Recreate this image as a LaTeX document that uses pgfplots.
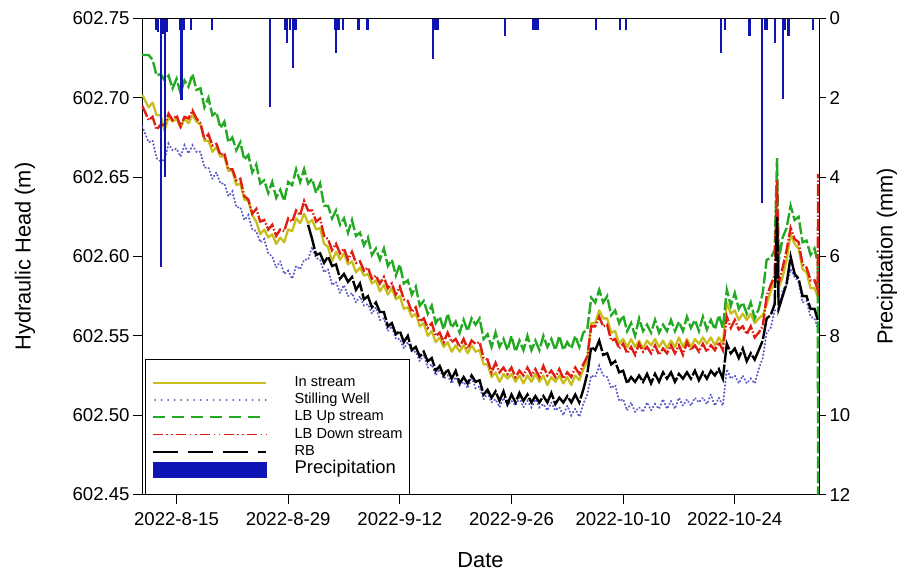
\documentclass[border=0pt]{standalone}
\usepackage{pgfplots}
\pgfplotsset{compat=1.18}
\usepackage{pgfplotstable}
\usepackage{fontspec}
\setmainfont{Liberation Sans}

\definecolor{cIn}{RGB}{200,190,30}
\definecolor{cWell}{RGB}{90,90,200}
\definecolor{cUp}{RGB}{35,170,35}
\definecolor{cDown}{RGB}{225,30,20}
\definecolor{cPrecip}{RGB}{15,20,180}

\pgfplotstableread{
d R G W K I
-4.3 602.695 602.727 602.682 nan 602.702
-3.5 602.686 602.727 602.672 nan 602.694
-3.0 602.688 602.724 602.673 nan 602.697
-2.5 602.680 602.714 602.662 nan 602.689
-2.0 602.683 602.715 602.660 nan 602.689
-1.5 602.683 602.711 602.661 nan 602.679
-1.0 602.690 602.714 602.671 nan 602.688
-0.5 602.686 602.706 602.667 nan 602.685
0.0 602.689 602.712 602.668 nan 602.687
0.5 602.682 602.703 602.663 nan 602.681
1.0 602.688 602.711 602.670 nan 602.687
1.5 602.687 602.707 602.665 nan 602.684
2.0 602.692 602.715 602.670 nan 602.689
2.5 602.687 602.705 602.666 nan 602.685
3.0 602.684 602.706 602.666 nan 602.683
3.5 602.674 602.694 602.656 nan 602.673
4.0 602.677 602.700 602.656 nan 602.673
4.5 602.670 602.689 602.649 nan 602.666
5.0 602.671 602.691 602.653 nan 602.669
5.5 602.664 602.681 602.646 nan 602.663
6.0 602.665 602.685 602.646 nan 602.663
6.5 602.655 602.672 602.638 nan 602.654
7.0 602.655 602.675 602.641 nan 602.654
7.5 602.648 602.667 602.631 nan 602.645
8.0 602.649 602.672 602.631 nan 602.646
8.5 602.638 602.661 602.623 nan 602.636
9.0 602.636 602.664 602.626 nan 602.635
9.5 602.627 602.653 602.617 nan 602.626
10.0 602.630 602.658 602.616 nan 602.622
10.5 602.622 602.646 602.609 nan 602.614
11.0 602.623 602.648 602.611 nan 602.617
11.5 602.617 602.640 602.602 nan 602.612
12.0 602.620 602.647 602.600 nan 602.614
12.5 602.613 602.637 602.593 nan 602.608
13.0 602.617 602.642 602.597 nan 602.612
13.5 602.616 602.635 602.589 nan 602.609
14.0 602.624 602.647 602.591 nan 602.617
14.5 602.622 602.645 602.586 nan 602.616
15.0 602.629 602.655 602.594 nan 602.624
15.5 602.626 602.647 602.592 nan 602.621
16.0 602.635 602.655 602.598 nan 602.627
16.5 602.629 602.646 602.598 602.620 602.621
17.0 602.629 602.649 602.606 602.611 602.623
17.5 602.622 602.640 602.599 602.601 602.617
18.0 602.624 602.646 602.598 602.602 602.618
18.5 602.613 602.632 602.590 602.596 602.608
19.0 602.611 602.632 602.592 602.600 602.606
19.5 602.604 602.624 602.582 602.594 602.597
20.0 602.608 602.629 602.584 602.595 602.603
20.5 602.602 602.620 602.577 602.586 602.598
21.0 602.605 602.624 602.582 602.589 602.602
21.5 602.598 602.615 602.575 602.584 602.595
22.0 602.603 602.623 602.577 602.587 602.597
22.5 602.596 602.613 602.571 602.579 602.590
23.0 602.597 602.615 602.575 602.583 602.593
23.5 602.591 602.607 602.569 602.573 602.588
24.0 602.593 602.612 602.570 602.575 602.589
24.5 602.586 602.601 602.564 602.568 602.583
25.0 602.588 602.605 602.568 602.571 602.585
25.5 602.583 602.598 602.560 602.565 602.578
26.0 602.587 602.605 602.561 602.565 602.582
26.5 602.580 602.594 602.553 602.556 602.576
27.0 602.583 602.598 602.556 602.558 602.580
27.5 602.576 602.588 602.548 602.551 602.573
28.0 602.581 602.595 602.548 602.553 602.575
28.5 602.573 602.583 602.542 602.546 602.567
29.0 602.572 602.585 602.546 602.550 602.568
29.5 602.565 602.576 602.540 602.541 602.562
30.0 602.568 602.581 602.540 602.543 602.564
30.5 602.559 602.569 602.534 602.537 602.556
31.0 602.561 602.572 602.538 602.540 602.558
31.5 602.555 602.564 602.530 602.534 602.550
32.0 602.558 602.569 602.532 602.536 602.553
32.5 602.550 602.558 602.525 602.528 602.546
33.0 602.552 602.562 602.529 602.531 602.549
33.5 602.546 602.554 602.523 602.525 602.543
34.0 602.552 602.564 602.525 602.529 602.546
34.5 602.546 602.555 602.520 602.523 602.540
35.0 602.548 602.559 602.524 602.528 602.544
35.5 602.543 602.552 602.519 602.520 602.540
36.0 602.548 602.560 602.521 602.524 602.544
36.5 602.542 602.553 602.517 602.520 602.539
37.0 602.547 602.561 602.524 602.525 602.544
37.5 602.545 602.557 602.517 602.521 602.540
38.0 602.546 602.561 602.518 602.522 602.541
38.5 602.536 602.548 602.510 602.513 602.532
39.0 602.535 602.551 602.514 602.516 602.532
39.5 602.527 602.543 602.508 602.511 602.524
40.0 602.533 602.552 602.510 602.515 602.527
40.5 602.527 602.543 602.505 602.509 602.521
41.0 602.530 602.548 602.511 602.515 602.526
41.5 602.526 602.541 602.506 602.507 602.523
42.0 602.530 602.550 602.509 602.513 602.526
42.5 602.524 602.540 602.506 602.508 602.521
43.0 602.528 602.547 602.511 602.514 602.525
43.5 602.525 602.541 602.505 602.509 602.520
44.0 602.530 602.550 602.509 602.513 602.525
44.5 602.525 602.541 602.505 602.508 602.521
45.0 602.529 602.547 602.510 602.512 602.526
45.5 602.524 602.541 602.505 602.508 602.521
46.0 602.531 602.550 602.507 602.512 602.525
46.5 602.525 602.543 602.503 602.508 602.519
47.0 602.528 602.548 602.508 602.514 602.524
47.5 602.524 602.541 602.503 602.507 602.521
48.0 602.529 602.550 602.505 602.511 602.525
48.5 602.523 602.541 602.500 602.508 602.520
49.0 602.527 602.546 602.506 602.512 602.524
49.5 602.524 602.542 602.500 602.508 602.519
50.0 602.530 602.550 602.504 602.513 602.525
50.5 602.526 602.543 602.499 602.508 602.522
51.0 602.532 602.552 602.507 602.516 602.529
51.5 602.537 602.554 602.513 602.526 602.534
52.0 602.556 602.574 602.525 602.543 602.558
52.5 602.556 602.571 602.524 602.541 602.558
53.0 602.562 602.579 602.531 602.547 602.566
53.5 602.556 602.571 602.525 602.538 602.561
54.0 602.557 602.575 602.524 602.539 602.561
54.5 602.547 602.563 602.517 602.532 602.552
55.0 602.548 602.566 602.519 602.534 602.553
55.5 602.542 602.558 602.509 602.527 602.545
56.0 602.545 602.563 602.510 602.528 602.548
56.5 602.539 602.553 602.503 602.520 602.543
57.0 602.543 602.558 602.508 602.524 602.548
57.5 602.538 602.550 602.502 602.521 602.543
58.0 602.545 602.561 602.505 602.525 602.547
58.5 602.540 602.553 602.502 602.521 602.542
59.0 602.543 602.557 602.508 602.526 602.547
59.5 602.539 602.552 602.503 602.520 602.544
60.0 602.544 602.560 602.507 602.526 602.548
60.5 602.538 602.552 602.504 602.521 602.543
61.0 602.542 602.557 602.510 602.527 602.547
61.5 602.539 602.553 602.504 602.523 602.542
62.0 602.544 602.560 602.509 602.527 602.547
62.5 602.539 602.553 602.504 602.521 602.543
63.0 602.544 602.559 602.511 602.526 602.549
63.5 602.538 602.553 602.506 602.523 602.543
64.0 602.546 602.562 602.510 602.527 602.548
64.5 602.541 602.555 602.506 602.523 602.543
65.0 602.544 602.560 602.511 602.528 602.548
65.5 602.540 602.553 602.508 602.522 602.545
66.0 602.545 602.562 602.511 602.527 602.549
66.5 602.540 602.554 602.507 602.523 602.545
67.0 602.544 602.560 602.513 602.528 602.549
67.5 602.541 602.554 602.506 602.525 602.544
68.0 602.546 602.563 602.511 602.529 602.549
68.5 602.541 602.555 602.506 602.523 602.545
69.0 602.562 602.579 602.529 602.545 602.571
69.5 602.555 602.569 602.523 602.539 602.564
70.0 602.560 602.577 602.525 602.542 602.566
70.5 602.554 602.567 602.520 602.536 602.560
71.0 602.556 602.571 602.525 602.542 602.564
71.5 602.551 602.564 602.520 602.534 602.560
72.0 602.556 602.571 602.523 602.539 602.564
72.5 602.549 602.561 602.520 602.535 602.558
73.0 602.552 602.567 602.529 602.541 602.561
73.5 602.556 602.577 602.536 602.547 602.563
74.0 602.575 602.598 602.552 602.561 602.570
74.5 602.582 602.599 602.555 602.563 602.578
75.0 602.588 602.604 602.566 602.570 602.585
75.3 602.648 602.662 602.566 602.625 602.586
75.5 602.583 602.597 602.565 602.567 602.580
76.0 602.593 602.612 602.579 602.575 602.587
76.5 602.604 602.618 602.582 602.583 602.598
77.0 602.618 602.632 602.592 602.600 602.614
77.5 602.611 602.623 602.587 602.589 602.608
78.0 602.609 602.625 602.584 602.586 602.605
78.5 602.595 602.609 602.571 602.575 602.592
79.0 602.593 602.610 602.572 602.575 602.590
79.5 602.585 602.601 602.562 602.567 602.580
80.0 602.585 602.605 602.561 602.567 602.580
80.4 602.579 602.596 602.555 602.560 602.575
80.45 602.652 602.450 nan nan nan
}\headtab

\pgfplotstableread{
d p
-2.57 0.28
-2.32 0.35
-1.98 6.27
-1.69 0.40
-1.44 4.00
-1.19 0.35
0.50 0.30
0.60 2.05
0.88 0.30
1.82 0.28
4.41 0.28
11.72 2.22
13.67 0.30
13.86 0.63
14.23 0.30
14.60 1.24
14.92 0.30
19.87 0.30
20.00 0.88
20.31 0.30
20.84 0.28
22.80 0.28
23.93 0.28
32.16 1.03
32.48 0.30
32.79 0.30
41.19 0.45
44.76 0.28
45.08 0.28
45.33 0.28
52.60 0.28
55.57 0.28
56.36 0.28
68.24 0.88
68.74 0.28
71.82 0.45
73.42 4.66
73.79 0.30
74.00 0.30
75.01 0.63
76.01 2.04
76.30 0.30
76.72 0.45
79.77 0.28
}\ptab

\pgfplotsset{/pgf/number format/assume math mode=true}

\begin{document}
\begin{tikzpicture}
\begin{axis}[
  at={(0pt,0pt)}, anchor=south west, scale only axis,
  width=677pt, height=476pt,
  xmin=-4.33, xmax=80.56, ymin=602.45, ymax=602.75,
  xtick={0,14,28,42,56,70},
  xticklabels={2022-8-15,2022-8-29,2022-9-12,2022-9-26,2022-10-10,2022-10-24},
  ytick={602.45,602.50,602.55,602.60,602.65,602.70,602.75},
  scaled y ticks=false,
  yticklabel style={/pgf/number format/.cd, fixed, fixed zerofill, precision=2},
  xticklabel style={yshift=-5pt},
  xtick pos=bottom, ytick pos=left, tick align=outside, major tick length=9pt,
  axis line style={line width=0.9pt},
  tick style={line width=0.9pt, black},
  ticklabel style={font=\fontsize{18.6}{20}\selectfont},
  xlabel={Date}, ylabel={Hydraulic Head (m)},
  label style={font=\fontsize{21.8}{24}\selectfont},
  xlabel style={at={([yshift=-65.5pt]axis description cs:0.5,0)}, anchor=center},
  ylabel style={at={([xshift=-117pt]axis description cs:0,0.5)}, anchor=center},
  legend cell align=left,
  legend style={at={(axis description cs:0,0)}, anchor=south west, xshift=3pt,
    draw=black, line width=0.8pt, fill=white, inner xsep=6.7pt, inner ysep=16pt,
    row sep=3.6pt, column sep=27.7pt,
    font=\fontsize{14.6}{16}\selectfont,
    nodes={inner sep=0pt, text height=10.5pt, text depth=3.2pt}},
]
\addplot[cIn, line width=2.3pt, line join=round,
  legend image code/.code={\draw[cIn, line width=1.8pt] (0pt,0pt) -- (113pt,0pt);}]
  table[x=d,y=I]{\headtab};
\addplot[cWell, line width=2.1pt, line cap=round, dash pattern=on 0.4pt off 3.2pt,
  legend image code/.code={\draw[cWell, line width=1.7pt, line cap=round, dash pattern=on 0.3pt off 6.2pt] (2pt,0pt) -- (113pt,0pt);}]
  table[x=d,y=W]{\headtab};
\addplot[cUp, line width=2.4pt, dash pattern=on 12pt off 3pt,
  legend image code/.code={\draw[cUp, line width=1.8pt, dash pattern=on 11.7pt off 7.3pt] (0pt,0pt) -- (113pt,0pt);}]
  table[x=d,y=G]{\headtab};
\addplot[cDown, line width=2.4pt, dash pattern=on 12pt off 2pt on 1.5pt off 2pt,
  legend image code/.code={\draw[cDown, line width=1.8pt, dash pattern=on 10pt off 3.5pt on 1.5pt off 3.5pt on 1.5pt off 3.5pt] (0pt,0pt) -- (113pt,0pt);}]
  table[x=d,y=R]{\headtab};
\addplot[black, line width=2.4pt, dash pattern=on 25pt off 2pt,
  legend image code/.code={\draw[black, line width=1.6pt, dash pattern=on 25pt off 10pt] (0pt,0pt) -- (113pt,0pt);}]
  table[x=d,y=K]{\headtab};
\addlegendimage{legend image code/.code={\fill[cPrecip] (0pt,-7.5pt) rectangle (113pt,7.5pt);}}
\legend{In stream, Stilling Well, LB Up stream, LB Down stream, RB, {\fontsize{18.4}{20}\selectfont Precipitation}}
\end{axis}
\begin{axis}[
  at={(0pt,0pt)}, anchor=south west, scale only axis,
  width=677pt, height=476pt,
  xmin=-4.33, xmax=80.56, ymin=0, ymax=12, y dir=reverse,
  axis y line*=right, axis x line=none,
  ytick={0,2,4,6,8,10,12},
  tick align=outside, major tick length=7pt,
  axis line style={line width=0.9pt},
  tick style={line width=0.9pt, black},
  ticklabel style={font=\fontsize{18.6}{20}\selectfont},
  ylabel={Precipitation (mm)},
  label style={font=\fontsize{21.8}{24}\selectfont},
  ylabel style={at={([xshift=68pt]axis description cs:1,0.5)}, anchor=center},
]
\addplot[ycomb, cPrecip, line width=2.4pt] table[x=d,y=p]{\ptab};
\end{axis}
\pgfresetboundingbox
\path[use as bounding box] (-142pt,-81.5pt) rectangle (767pt,494.5pt);
\end{tikzpicture}
\end{document}
